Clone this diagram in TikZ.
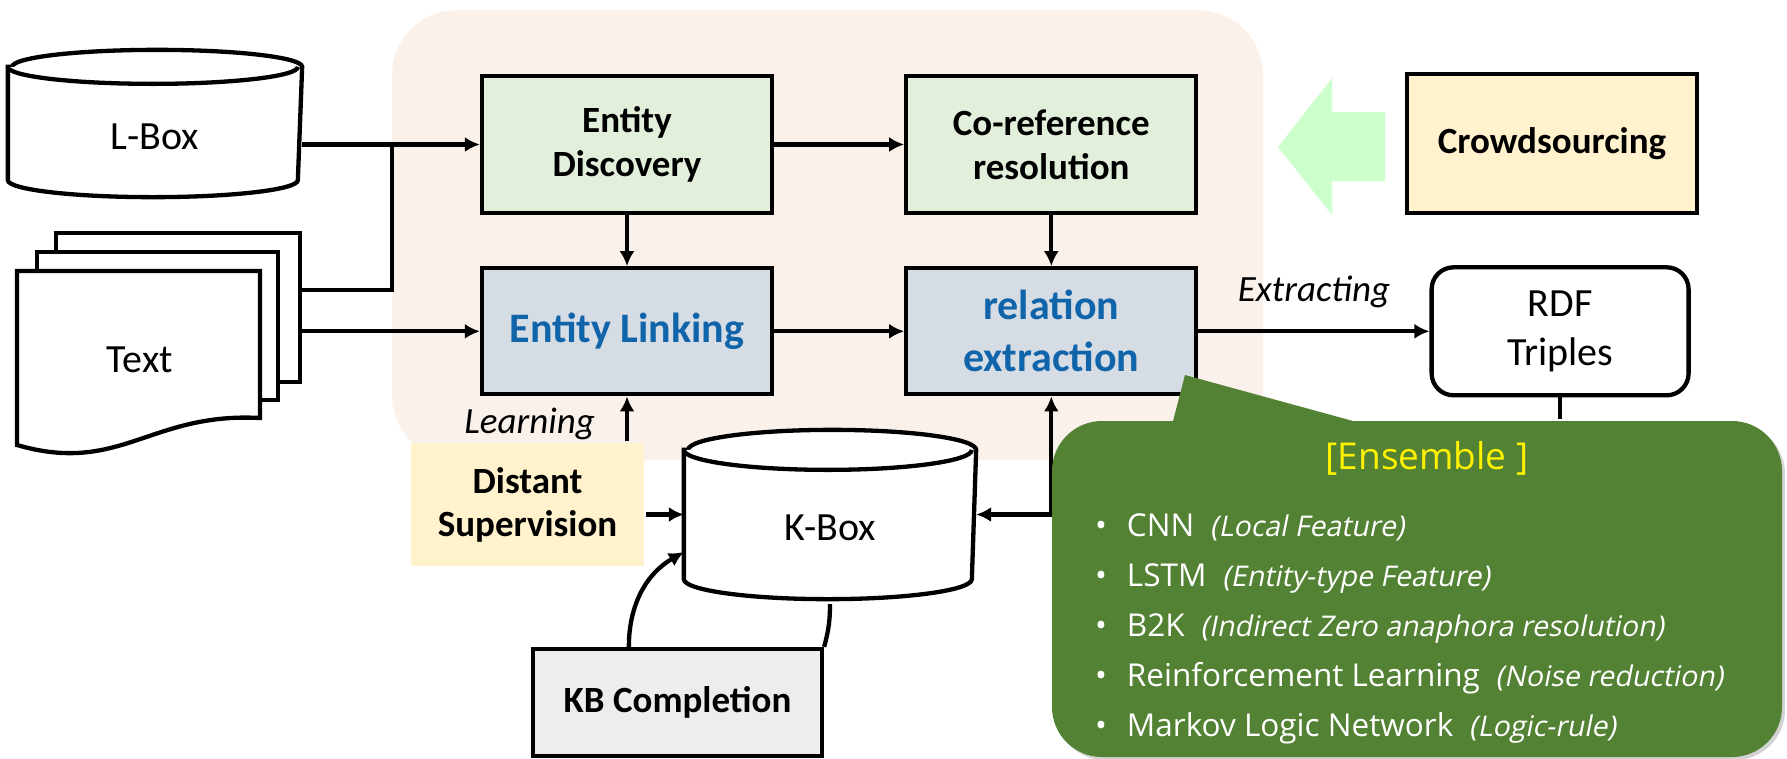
\documentclass[tikz,border=0pt]{standalone}
\usepackage{fontspec}
\setmainfont{Carlito}
\newfontfamily\ensfont{Open Sans}[ItalicFont={Open Sans},ItalicFeatures={FakeSlant=0.2}]
\usetikzlibrary{positioning,arrows.meta,backgrounds,shadows}
\definecolor{peach}{RGB}{251,241,235}
\definecolor{edgreen}{RGB}{226,239,218}
\definecolor{elgrey}{RGB}{214,220,228}
\definecolor{linkblue}{RGB}{16,100,170}
\definecolor{crowdy}{RGB}{255,242,204}
\definecolor{kbgrey}{RGB}{237,237,237}
\definecolor{ensgreen}{RGB}{84,130,53}
\definecolor{arrgreen}{RGB}{204,255,204}

% database drum: name, centre, width, height, rim radius, label
\newcommand\dbnode[6]{%
  \node[dbarea,minimum width=#3,minimum height=#4] (#1) at (#2) {};
  \filldraw[dbline] ([yshift=-#5]#1.north west) -- ([yshift=#5]#1.south west)
    arc[start angle=180,end angle=360,x radius=#3/2,y radius=#5]
    -- ([yshift=-#5]#1.north east)
    arc[start angle=0,end angle=180,x radius=#3/2,y radius=#5] -- cycle;
  \draw[dbline] ([yshift=-#5]#1.north west) arc[start angle=180,end angle=360,x radius=#3/2,y radius=#5];
  \node[dbtext] (#1-lbl) at ([yshift=-13pt]#1.center) {#6};}
\newcommand\ensitem[2]{\makebox[32pt][l]{\textbullet}#1\enspace{\itshape\fontsize{28.5}{50}\selectfont(#2)}}

\begin{document}
\begin{tikzpicture}[x=1pt,y=1pt,line width=4.3pt,>={Latex[length=15pt,width=15pt]},
  stage/.style={draw,fill=edgreen,minimum width=290pt,minimum height=137pt,inner sep=0pt,align=center,font=\bfseries\fontsize{37}{44}\selectfont},
  task/.style={stage,fill=elgrey,minimum height=126pt,text=linkblue,font=\bfseries\fontsize{42}{52}\selectfont},
  crowd/.style={stage,fill=crowdy,minimum height=139pt},
  rdfbox/.style={draw,rounded corners=22pt,minimum width=257pt,minimum height=128pt,inner sep=0pt,align=center,font=\fontsize{40}{49}\selectfont},
  dsbox/.style={fill=crowdy,minimum width=233pt,minimum height=123pt,inner sep=0pt,align=center,font=\bfseries\fontsize{37}{43}\selectfont},
  kbcbox/.style={stage,fill=kbgrey,minimum width=289pt,minimum height=107pt},
  dbarea/.style={inner sep=0pt},
  dbline/.style={draw=black,fill=white},
  dbtext/.style={inner sep=0pt,font=\fontsize{40}{48}\selectfont},
  lbl/.style={inner sep=0pt,font=\itshape\fontsize{37}{44}\selectfont},
  callbody/.style={fill=ensgreen,rounded corners=50pt,minimum width=730pt,minimum height=336pt,inner sep=0pt,
    drop shadow={shadow xshift=3pt,shadow yshift=-3pt,opacity=0.35}},
  enstitle/.style={inner sep=0pt,text=yellow,font=\ensfont\fontsize{37}{44}\selectfont},
  enslist/.style={inner sep=0pt,text=white,align=left,font=\ensfont\fontsize{31.5}{50}\selectfont}]
  \useasboundingbox (0,0) rectangle (1787,-758);
  \begin{scope}[on background layer]
    \fill[peach,rounded corners=65pt] (392,-10) rectangle (1263,-460);
  \end{scope}

  % sources
  \dbnode{lbox}{155,-123.5}{290pt}{143pt}{17pt}{L-Box}
  \node[dbarea,minimum width=283pt,minimum height=222pt] (txt) at (158.5,-344) {};
  \filldraw[dbline] (56,-233) rectangle (300,-382);
  \filldraw[dbline] (37,-252) rectangle (278,-400);
  \filldraw[dbline] (17,-271) -- (260,-271) -- (260,-418) .. controls (150,-412) and (120,-475) .. (17,-445) -- cycle;
  \node[dbtext] (txt-lbl) at (140,-360) {Text};
  \dbnode{kbox}{830,-514.5}{288pt}{165pt}{20pt}{K-Box}

  % pipeline
  \node[stage] (ed) at (627,-144.5) {Entity\\Discovery};
  \node[stage,right=130pt of ed] (cr) {Co-reference\\resolution};
  \node[task,below=51pt of ed] (el) {Entity Linking};
  \node[task,right=130pt of el] (re) {relation\\extraction};
  \node[rdfbox,right=231pt of re] (rdf) {RDF\\Triples};
  \node[crowd] (crowd) at (1552,-143.5) {Crowdsourcing};
  \node[dsbox] (ds) at (527.5,-504.5) {Distant\\Supervision};
  \node[kbcbox] (kbc) at (677.5,-702.5) {KB Completion};
  \fill[arrgreen] (1278,-147) -- (1332,-78) -- (1332,-112) -- (1385,-112) -- (1385,-181) -- (1332,-181) -- (1332,-215) -- cycle;

  \coordinate (jn) at (392,-144.5);
  \draw[->] (lbox.east |- ed.west) -- (ed.west);
  \draw ([yshift=54pt]txt.east) -| (jn);
  \draw[->] (txt.east |- el.west) -- (el.west);
  \draw[->] (ed) -- (cr); \draw[->] (el) -- (re);
  \draw[->] (ed) -- (el); \draw[->] (cr) -- (re);
  \draw[->] (re) -- node[lbl,above=21pt] (extr) {Extracting} (rdf);
  \draw[->] (el.south |- ds.north) -- node[lbl,left=30pt,yshift=-5pt] (learn) {Learning} (el.south);
  \draw[->] (ds.east |- kbox.west) -- (kbox.west);
  \draw[<->] (kbox.east) -| (re.south);
  \draw[->] ([xshift=98pt]kbc.north west) to[out=90,in=210] ([yshift=-37.5pt]kbox.west);
  \draw ([yshift=-5pt]kbox.south) to[out=-90,in=75] (kbc.north east);

  % ensemble call-out
  \node[callbody] (call) at (1417,-589) {};
  \draw (rdf.south) -- (call.north -| rdf.south);
  \fill[ensgreen] (1170.7,-430) -- (1185,-375) -- (1385.9,-430) -- cycle;
  \node[enstitle] (enst) at ([xshift=10pt,yshift=-40pt]call.north) {[Ensemble ]};
  \node[enslist,anchor=west] (ensl) at ([xshift=43pt,yshift=-40pt]call.west)
    {\ensitem{CNN}{Local Feature}\\
     \ensitem{LSTM}{Entity-type Feature}\\
     \ensitem{B2K}{Indirect Zero anaphora resolution}\\
     \ensitem{Reinforcement Learning}{Noise reduction}\\
     \ensitem{Markov Logic Network}{Logic-rule}};
\end{tikzpicture}
\end{document}
